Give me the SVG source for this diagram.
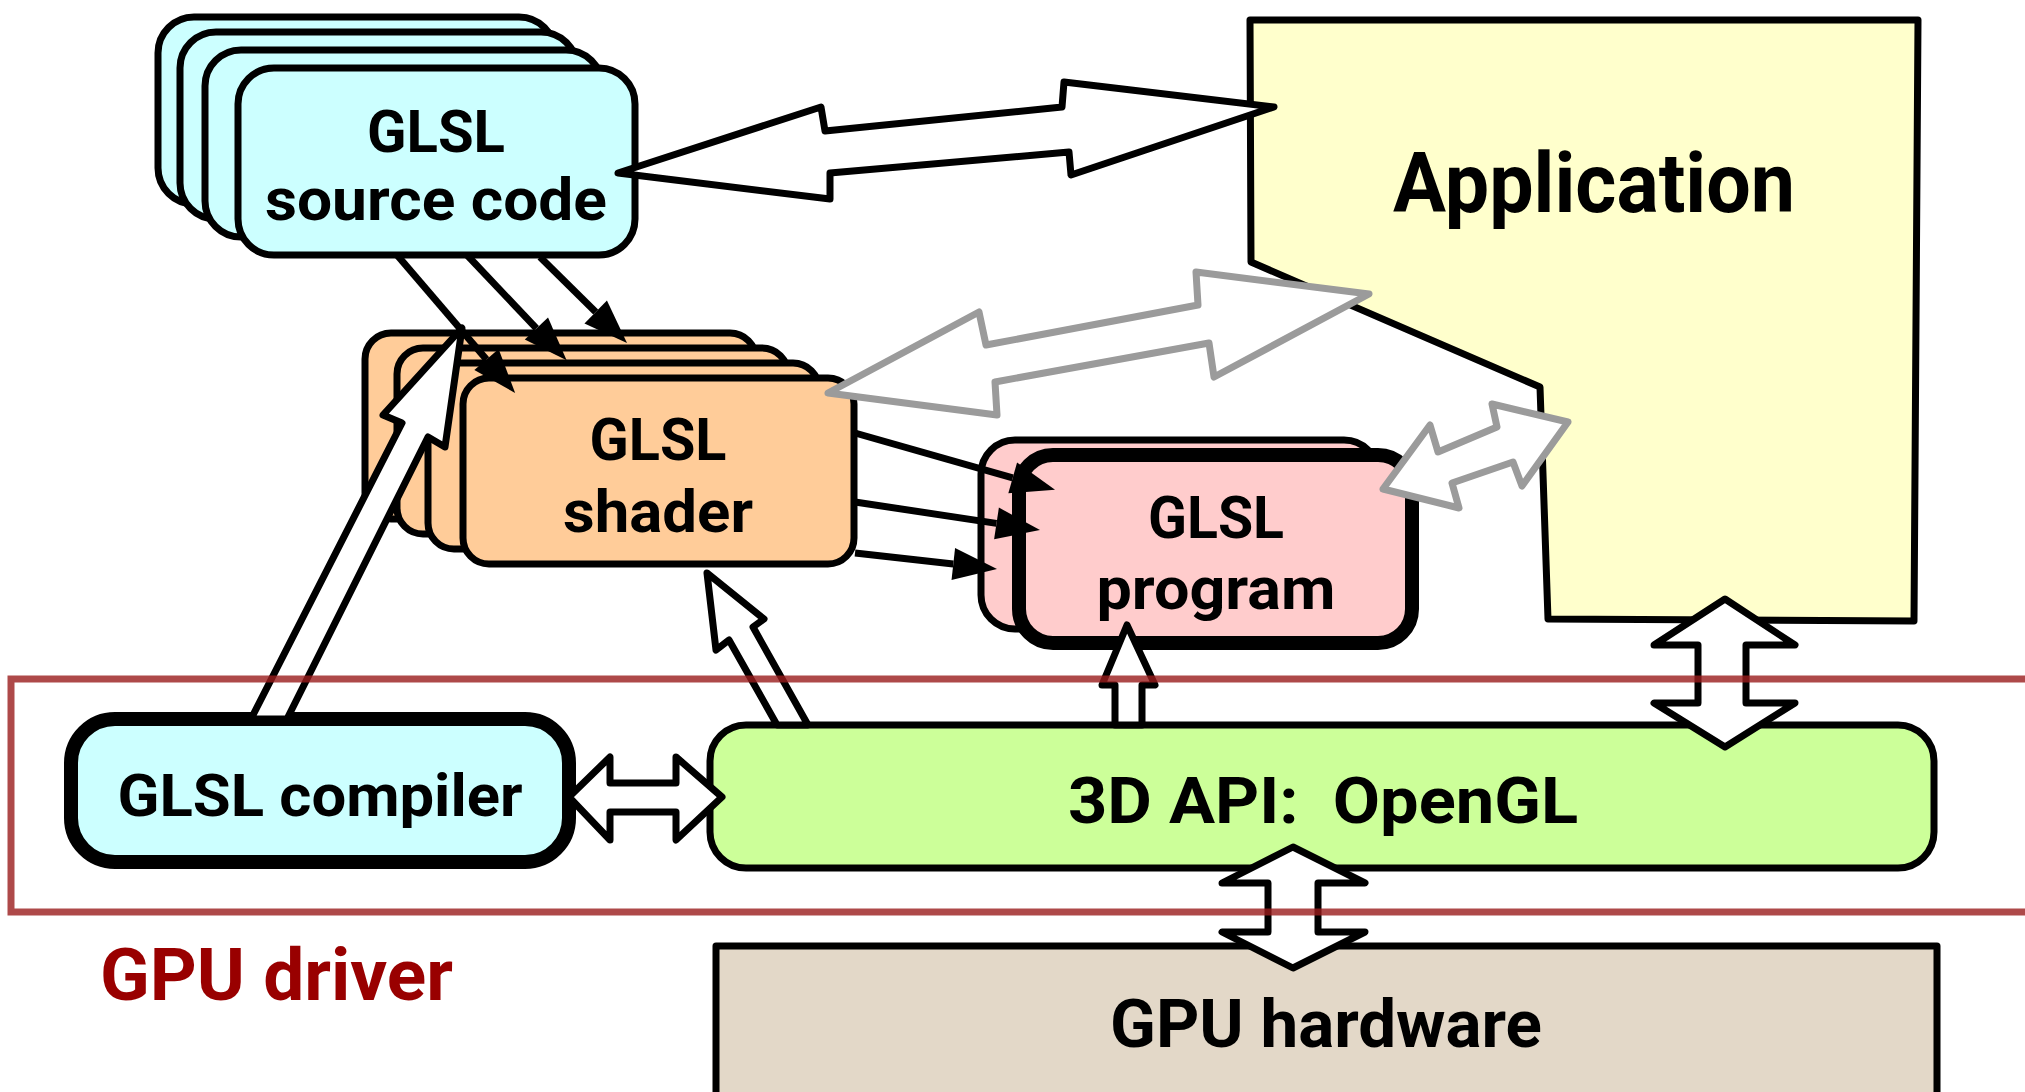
<svg xmlns="http://www.w3.org/2000/svg" width="2025" height="1092" viewBox="0 0 2025 1092">
  <style>
    .box { stroke: #000; stroke-width: 7; stroke-linejoin: round; }
    .heavy { stroke-width: 14; }
    .cyan { fill: #ccffff; }
    .peach { fill: #ffcc99; }
    .pink { fill: #ffcccc; }
    .cream { fill: #ffffcc; }
    .lime { fill: #ccff99; }
    .sand { fill: #e3d8c8; }
    .t { font-family: Roboto, "Liberation Sans", "DejaVu Sans", sans-serif; font-weight: 700; text-anchor: middle; fill: #000; }
    .blk { fill: #fff; stroke: #000; stroke-width: 7; stroke-linejoin: round; }
    .gry { fill: #fff; stroke: #9b9b9b; stroke-width: 7; stroke-linejoin: round; }
    .thin { fill: none; stroke: #000; stroke-width: 7; marker-end: url(#head); }
  </style>
  <defs>
    <marker id="head" markerUnits="userSpaceOnUse" viewBox="0 -16 44 32" markerWidth="44" markerHeight="32" refX="0" refY="0" orient="auto" overflow="visible">
      <path d="M0,-16 L44,0 L0,16 Z" fill="#000"/>
    </marker>
  </defs>

  <rect width="2025" height="1092" fill="#fff"/>

  <!-- Application -->
  <g id="application">
    <polygon class="box cream" points="1250,20 1918,20 1914,621 1548,619 1540,387 1251,262"/>
    <text class="t" x="1594" y="212" font-size="84" textLength="402" lengthAdjust="spacingAndGlyphs">Application</text>
  </g>

  <!-- GLSL source code (stack of files) -->
  <g id="source-code">
    <rect class="box cyan" x="158" y="17" width="397" height="187" rx="36"/>
    <rect class="box cyan" x="180" y="32" width="397" height="187" rx="36"/>
    <rect class="box cyan" x="205" y="50" width="397" height="187" rx="36"/>
    <rect class="box cyan" x="238" y="68" width="397" height="187" rx="36"/>
    <text class="t" x="436" y="152" font-size="59" textLength="138" lengthAdjust="spacingAndGlyphs">GLSL</text>
    <text class="t" x="436" y="220" font-size="59" textLength="342" lengthAdjust="spacingAndGlyphs">source code</text>
  </g>

  <!-- GLSL shader (stack) -->
  <g id="shader">
    <rect class="box peach" x="365" y="333" width="391" height="186" rx="26"/>
    <rect class="box peach" x="397" y="348" width="391" height="186" rx="26"/>
    <rect class="box peach" x="428" y="363" width="391" height="186" rx="26"/>
    <rect class="box peach" x="463" y="378" width="391" height="186" rx="26"/>
    <text class="t" x="658" y="460" font-size="59" textLength="137" lengthAdjust="spacingAndGlyphs">GLSL</text>
    <text class="t" x="658" y="532" font-size="59" textLength="190" lengthAdjust="spacingAndGlyphs">shader</text>
  </g>

  <!-- GLSL program -->
  <g id="program">
    <rect class="box pink" x="981" y="440" width="397" height="189" rx="34"/>
    <rect class="box heavy pink" x="1019" y="455" width="393" height="188" rx="34"/>
    <text class="t" x="1216" y="538" font-size="59" textLength="136" lengthAdjust="spacingAndGlyphs">GLSL</text>
    <text class="t" x="1216" y="609" font-size="59" textLength="239" lengthAdjust="spacingAndGlyphs">program</text>
  </g>

  <!-- GLSL compiler -->
  <g id="compiler">
    <rect class="box heavy cyan" x="71" y="719" width="498" height="143" rx="44"/>
    <text class="t" x="320" y="816" font-size="59" textLength="405" lengthAdjust="spacingAndGlyphs">GLSL compiler</text>
  </g>

  <!-- 3D API -->
  <g id="opengl">
    <rect class="box lime" x="710" y="725" width="1224" height="143" rx="36"/>
    <text class="t" x="1323" y="823" font-size="65" textLength="510" lengthAdjust="spacingAndGlyphs" xml:space="preserve">3D API:  OpenGL</text>
  </g>

  <!-- GPU hardware -->
  <g id="hardware">
    <rect class="box sand" x="716" y="946" width="1221" height="160"/>
    <text class="t" x="1326" y="1047" font-size="66" textLength="432" lengthAdjust="spacingAndGlyphs">GPU hardware</text>
  </g>

  <!-- Connectors -->
  <g id="connectors">
    <!-- source code <-> application -->
    <polygon class="blk" points="618,173 821,107 825,131 1062,107 1064,82 1274,107 1071,175 1069,152 830,173 830,199"/>
    <!-- shader <-> application -->
    <polygon class="gry" points="828,393 979,312 986,345 1198,305 1196,272 1369,294 1214,377 1209,343 995,382 997,415"/>
    <!-- program <-> application -->
    <polygon class="gry" points="1383,489 1430,425 1438,452 1497,427 1492,404 1568,422 1522,486 1513,462 1452,483 1459,508"/>
    <!-- source code -> shaders -->
    <line class="thin" x1="397" y1="255" x2="486.5" y2="359.5"/>
    <line class="thin" x1="467" y1="255" x2="536.4" y2="328.4"/>
    <line class="thin" x1="540" y1="257" x2="595.7" y2="312"/>
    <!-- shaders -> program -->
    <line class="thin" x1="855" y1="433" x2="1012.7" y2="477.8"/>
    <line class="thin" x1="855" y1="502" x2="996.5" y2="523.4"/>
    <line class="thin" x1="855" y1="553" x2="953.3" y2="564"/>
    <!-- compiler -> shader -->
    <polygon class="blk" points="462,328 445,447 428,437 287,719 251,719 402,423 383,415"/>
    <!-- 3D API -> shader -->
    <polygon class="blk" points="707,573 764,619 753,627 808,725 777,725 729,640 716,650"/>
    <!-- 3D API -> program -->
    <polygon class="blk" points="1127,625 1155,685 1142,685 1142,725 1115,725 1115,685 1102,685"/>
    <!-- compiler <-> 3D API -->
    <polygon class="blk" points="569,797 610,757 610,783 676,783 676,757 722,797 676,840 676,812 610,812 610,840"/>
    <!-- application <-> 3D API -->
    <polygon class="blk" points="1725,599 1795,645 1746,645 1746,703 1795,703 1725,747 1654,703 1698,703 1698,645 1654,645"/>
    <!-- 3D API <-> hardware -->
    <polygon class="blk" points="1293,847 1365,883 1318,883 1318,932 1365,932 1293,968 1222,932 1268,932 1268,883 1222,883"/>
  </g>

  <!-- GPU driver region -->
  <g id="gpu-driver">
    <rect x="11" y="679" width="2040" height="233" fill="none" stroke="#9a1c1c" stroke-opacity="0.8" stroke-width="7"/>
    <text x="100" y="1000" font-family="Roboto, 'Liberation Sans', 'DejaVu Sans', sans-serif" font-weight="700" font-size="72" fill="#990000" textLength="353" lengthAdjust="spacingAndGlyphs">GPU driver</text>
  </g>
</svg>
